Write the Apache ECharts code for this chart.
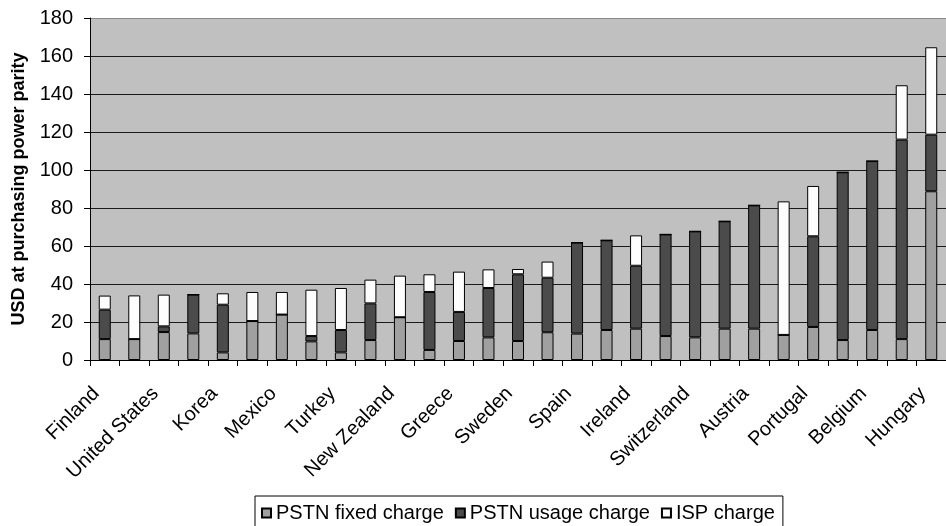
<!DOCTYPE html>
<html>
<head>
<meta charset="utf-8">
<script src="https://cdn.jsdelivr.net/npm/echarts@6/dist/echarts.min.js"></script>
<style>
  html, body { margin: 0; padding: 0; background: #ffffff; }
  #chart { width: 946px; height: 526px; }
</style>
</head>
<body>
<div id="chart"></div>
<script>
// Monthly dial-up access cost by country, USD at PPP, split into three components
const countries = [
  'Finland', 'Canada', 'United States', 'Iceland', 'Korea', 'Australia', 'Mexico',
  'Denmark', 'Turkey', 'Norway', 'New Zealand', 'Italy', 'Greece', 'Netherlands',
  'Sweden', 'Luxembourg', 'Spain', 'France', 'Ireland', 'Japan', 'Switzerland',
  'Germany', 'Austria', 'United Kingdom', 'Portugal', 'Poland', 'Belgium',
  'Czech Republic', 'Hungary'
];

const pstnFixed = [
  11.0, 11.0, 14.7, 14.0, 4.0, 20.5, 23.9, 9.8, 4.0, 10.5, 22.5, 5.3, 10.0, 11.9,
  10.0, 14.6, 13.9, 15.8, 16.5, 12.6, 11.9, 16.5, 16.5, 13.2, 17.4, 10.5, 15.8,
  11.0, 88.8
];

const pstnUsage = [
  15.5, 0, 3.0, 20.4, 25.1, 0, 0, 2.8, 11.8, 19.3, 0, 30.5, 15.3, 26.0,
  35.1, 28.7, 47.9, 47.2, 33.1, 53.5, 55.8, 56.5, 64.9, 0, 47.7, 88.3, 88.9,
  105.0, 29.8
];

const ispCharge = [
  7.4, 23.0, 16.7, 0, 6.0, 15.3, 11.9, 24.4, 22.1, 12.5, 21.9, 9.3, 21.2, 9.8,
  2.8, 8.5, 0, 0, 16.0, 0, 0, 0, 0, 70.3, 26.5, 0, 0, 28.6, 46.0
];

const seriesNames = ['PSTN fixed charge', 'PSTN usage charge', 'ISP charge'];
const seriesColors = ['#a0a0a0', '#4b4b4b', '#fdfdfd'];

const yMin = 0, yMax = 180, yStep = 20;
const FONT = '"Liberation Sans", Arial, sans-serif';

const chart = echarts.init(document.getElementById('chart'), null, { renderer: 'canvas' });

function barSeries(idx, values) {
  return {
    name: seriesNames[idx],
    type: 'bar',
    stack: 'total',
    data: values,
    barWidth: 12,
    itemStyle: { color: seriesColors[idx], borderColor: '#000000', borderWidth: 1 },
    emphasis: { disabled: true }
  };
}

chart.setOption({
  animation: false,
  backgroundColor: '#ffffff',
  textStyle: { fontFamily: FONT, color: '#000000' },
  grid: {
    left: 90, top: 18, width: 864, height: 342,
    show: true, backgroundColor: '#c0c0c0', borderWidth: 0
  },
  legend: {
    left: 255, top: 496,
    orient: 'horizontal',
    padding: [7, 8, 7, 6],
    itemGap: 11,
    itemWidth: 9, itemHeight: 9,
    icon: 'rect',
    borderColor: '#000000', borderWidth: 1,
    backgroundColor: '#ffffff',
    textStyle: { fontFamily: FONT, fontSize: 20, color: '#000000' },
    data: seriesNames
  },
  xAxis: {
    type: 'category',
    data: countries,
    boundaryGap: true,
    axisLine: { lineStyle: { color: '#000000', width: 1 } },
    axisTick: { show: true, length: 6, alignWithLabel: false, interval: 0, lineStyle: { color: '#000000' } },
    axisLabel: {
      interval: 1,
      rotate: 45,
      margin: 22,
      padding: [0, 12, 24, 0],
      fontFamily: FONT,
      fontSize: 20,
      color: '#000000'
    },
    splitLine: { show: false }
  },
  yAxis: {
    type: 'value',
    min: yMin, max: yMax, interval: yStep,
    name: 'USD at purchasing power parity',
    nameLocation: 'middle',
    nameRotate: 90,
    nameGap: 62,
    nameTextStyle: { fontFamily: FONT, fontSize: 18, fontWeight: 'bold', color: '#000000' },
    axisLine: { show: true, lineStyle: { color: '#000000', width: 1 } },
    axisTick: { show: true, length: 6, lineStyle: { color: '#000000' } },
    axisLabel: { margin: 17, fontFamily: FONT, fontSize: 20, color: '#000000' },
    splitLine: {
      show: true,
      lineStyle: {
        color: ['#1a1a1a', '#1a1a1a', '#1a1a1a', '#1a1a1a', '#1a1a1a',
                '#1a1a1a', '#1a1a1a', '#1a1a1a', '#1a1a1a', '#8a8a8a'],
        width: 1
      }
    }
  },
  series: [
    barSeries(0, pstnFixed),
    barSeries(1, pstnUsage),
    barSeries(2, ispCharge)
  ]
});
</script>
</body>
</html>
